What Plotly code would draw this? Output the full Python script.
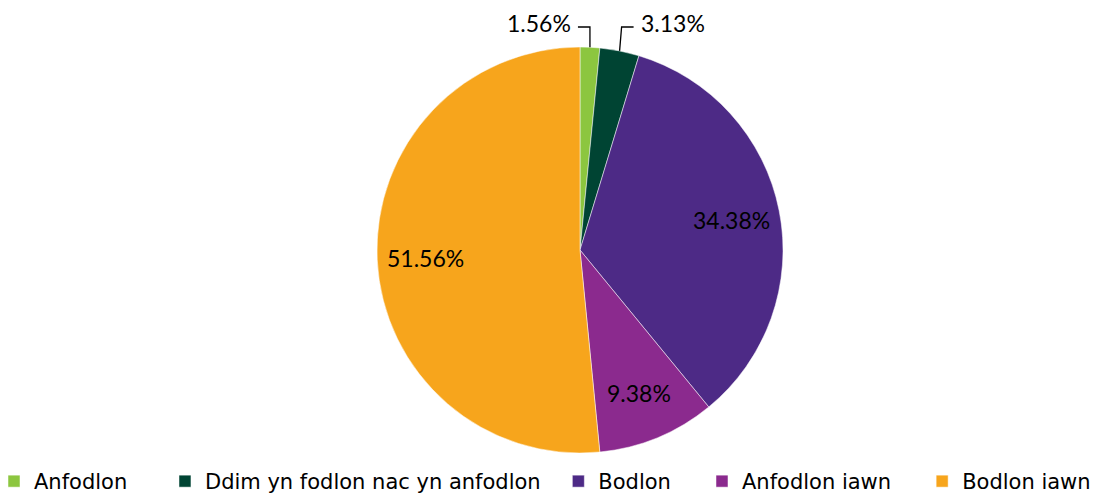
import math
import plotly.graph_objects as go

labels = ["Anfodlon", "Ddim yn fodlon nac yn anfodlon", "Bodlon", "Anfodlon iawn", "Bodlon iawn"]
percent = [1.56, 3.13, 34.38, 9.38, 51.56]
colors = ["#8CC63F", "#004433", "#4D2A86", "#8B2A8E", "#F7A51C"]
outside = [True, True, False, False, False]

# extra spacing after each legend entry (in no-break spaces), to spread the legend like the original
legend_pad = [7, 4, 6, 6, 0]

W, H = 1105, 494
OFF = 8                      # page body margin the figure is drawn inside
cx_px, cy_px, r_px = 580 - OFF, 250 - OFF, 203
M_T = cy_px - r_px
plot_h = 2 * r_px
M_B = H - M_T - plot_h
cx, cy = cx_px / W, 0.5
rx, ry = r_px / W, r_px / plot_h

legend_names = [lab + "\u00a0" * p for lab, p in zip(labels, legend_pad)]

fig = go.Figure(go.Pie(
    labels=legend_names, values=percent, sort=False,
    direction="clockwise", rotation=0,
    marker=dict(colors=colors, line=dict(color="white", width=0.5)),
    textinfo="none",
    domain=dict(x=[(cx_px - r_px) / W, (cx_px + r_px) / W], y=[0, 1]),
    hovertext=labels, hoverinfo="text+percent",
))

label_font = dict(family="Lato", size=23, color="black")
line_y = (H - M_B - (27 - OFF)) / plot_h   # height of the leader elbows
total = sum(percent)
cum = 0
for val, out in zip(percent, outside):
    mid = (cum + val / 2) / total * 2 * math.pi
    cum += val
    txt = f"{val:.2f}%"
    sx, sy = math.sin(mid), math.cos(mid)
    if out:
        ex, ey = cx + rx * sx, cy + ry * sy
        side = 1 if sx > 0.1 else -1
        kx = ex + (2 / W if side > 0 else 0)
        hx = kx + side * 12 / W
        fig.add_shape(type="path", xref="paper", yref="paper",
                      path=f"M {ex},{ey} L {kx},{line_y} L {hx},{line_y}",
                      line=dict(color="black", width=1.3))
        fig.add_annotation(x=hx + side * 5 / W, y=line_y + 4 / plot_h, text=txt,
                           xref="paper", yref="paper", showarrow=False, height=20,
                           xanchor="left" if side > 0 else "right", yanchor="middle",
                           font=label_font)
    else:
        f = 0.76
        fig.add_annotation(x=cx + f * rx * sx, y=cy + f * ry * sy, text=txt,
                           xref="paper", yref="paper", showarrow=False,
                           xanchor="center", yanchor="middle", font=label_font)

fig.update_layout(
    width=W, height=H,
    margin=dict(l=0, r=0, t=M_T, b=M_B),
    paper_bgcolor="white",
    font=dict(family="DejaVu Sans", color="black"),
    legend=dict(
        orientation="h", xref="container", x=0, xanchor="left",
        yref="container", y=0, yanchor="bottom",
        font=dict(family="DejaVu Sans", size=21),
        traceorder="normal", indentation=-14,
    ),
)

fig.write_html("out.html")
